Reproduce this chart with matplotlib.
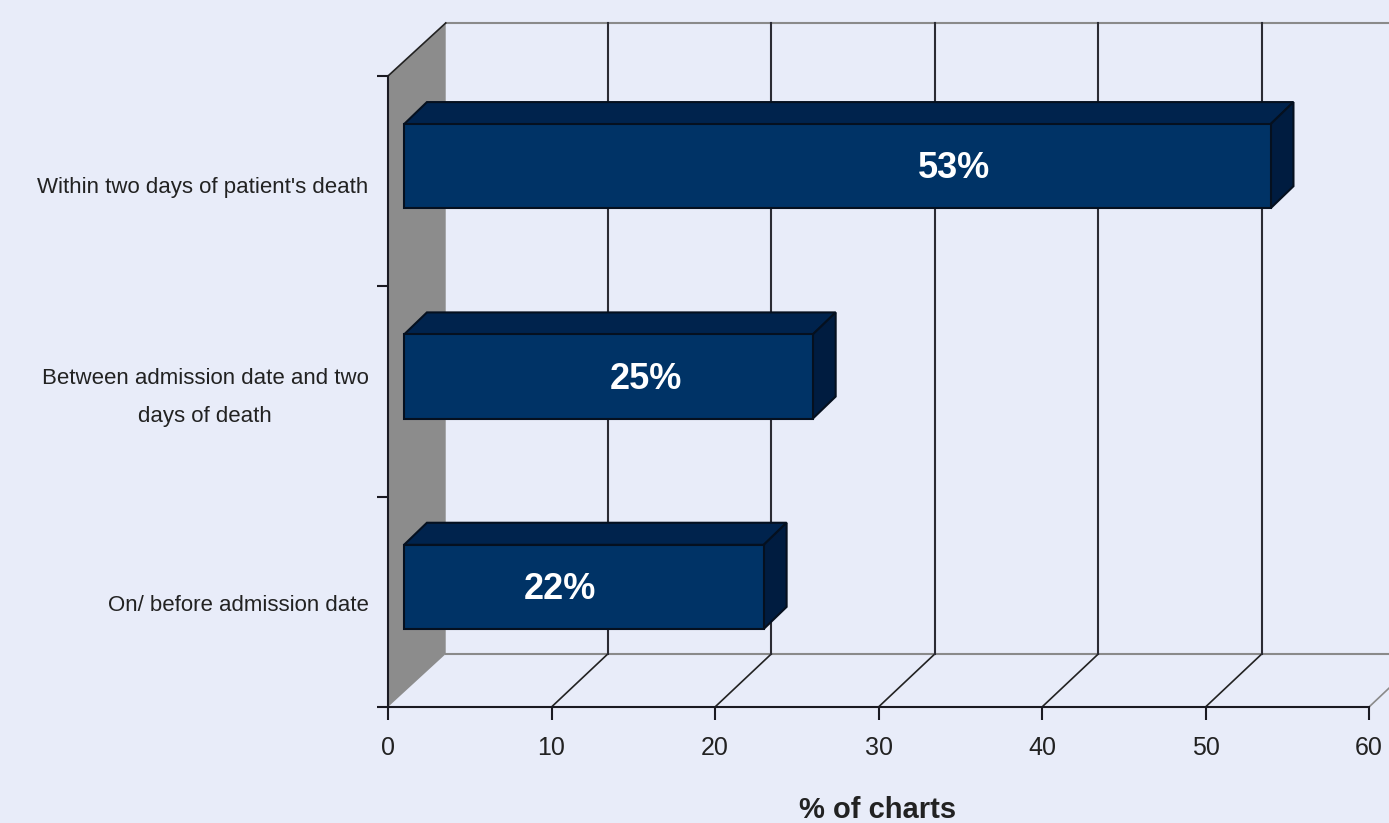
#!/usr/bin/env python3
# 3D-look horizontal bars, % of charts by timing
import matplotlib
matplotlib.use("Agg")
import matplotlib.pyplot as plt
from matplotlib.patches import Polygon

plt.rcParams["font.family"] = ["Liberation Sans", "DejaVu Sans"]

categories = ["On/ before admission date",
              "Between admission date and two\ndays of death",
              "Within two days of patient's death"]
values = [22, 25, 53]
value_labels = ["22%", "25%", "53%"]
x_ticks = [0, 10, 20, 30, 40, 50, 60]

BG = "#e8ecf9"
FRONT = "#003366"
TOP = "#00234d"
SIDE = "#001c40"
WALL = "#8c8c8c"
EDGE = "#05101f"

# fake depth, in data units
WALL_X = 3.53
DEPTH_X, DEPTH_Y = 3.44, 0.252
BAR_X, BAR_Y = 0.98, 0.071
BAR_DX, BAR_DY = 1.4, 0.105
BAR_H = 0.4
LABEL_X = [10.5, 15.8, 34.6]
CAT_LABEL_Y = [0.495, 1.525, 2.482]

W, H = 1389, 823
fig = plt.figure(figsize=(W / 100, H / 100), dpi=100, facecolor=BG)
ax = fig.add_axes([388 / W, (H - 707) / H, (1369 - 388) / W, (707 - 76) / H])
ax.patch.set_visible(False)
ax.set_xlim(0, 60)
ax.set_ylim(0, 3)

# side wall
ax.add_patch(Polygon([(0, 0), (WALL_X, DEPTH_Y), (WALL_X, 3 + DEPTH_Y), (0, 3)],
                     facecolor=WALL, edgecolor="none", clip_on=False, zorder=1))
ax.plot([0, WALL_X], [3, 3 + DEPTH_Y], color="#222222", lw=1.2, clip_on=False, zorder=2)

# back wall outline
ax.plot([WALL_X, 66], [3 + DEPTH_Y] * 2, color="#8a8a8a", lw=1.5, clip_on=False, zorder=1)
ax.plot([WALL_X, 66], [DEPTH_Y] * 2, color="#8a8a8a", lw=1.5, clip_on=False, zorder=1)

# grid and floor diagonals
for t in x_ticks[1:]:
    col = "#8a8a8a" if t == 60 else "#222222"
    ax.plot([t, t + DEPTH_X], [0, DEPTH_Y], color=col, lw=1.2, clip_on=False, zorder=2)
    if t < 60:
        ax.plot([t + DEPTH_X] * 2, [DEPTH_Y, 3 + DEPTH_Y], color="#2b2b33", lw=1.5,
                clip_on=False, zorder=2)

# bars, front face first then the top and the end
y_pos = [i + 0.5 + BAR_Y for i in range(len(values))]
ax.barh(y_pos, values, height=BAR_H, left=BAR_X, color=FRONT, edgecolor=EDGE,
        linewidth=1.5, zorder=4)
for y, v in zip(y_pos, values):
    top = y + BAR_H / 2
    bot = y - BAR_H / 2
    end = BAR_X + v
    ax.add_patch(Polygon([(BAR_X, top), (BAR_X + BAR_DX, top + BAR_DY),
                          (end + BAR_DX, top + BAR_DY), (end, top)],
                         facecolor=TOP, edgecolor=EDGE, lw=1.5, clip_on=False, zorder=3))
    ax.add_patch(Polygon([(end, top), (end + BAR_DX, top + BAR_DY),
                          (end + BAR_DX, bot + BAR_DY), (end, bot)],
                         facecolor=SIDE, edgecolor=EDGE, lw=1.5, clip_on=False, zorder=3))

for x, y, s in zip(LABEL_X, y_pos, value_labels):
    ax.text(x, y - 0.012, s, color="white", fontsize=26, fontweight="bold", ha="center",
            va="center", zorder=5)

for side in ("top", "right"):
    ax.spines[side].set_visible(False)
for side in ("left", "bottom"):
    ax.spines[side].set_color("#1a1a22")
    ax.spines[side].set_linewidth(1.5)
    ax.spines[side].set_zorder(6)

ax.set_xticks(x_ticks)
ax.tick_params(axis="x", length=9, width=1.5, color="#1a1a22", labelsize=18,
               labelcolor="#222222", pad=12)
ax.set_yticks([0, 1, 2, 3])
ax.set_yticklabels([])
ax.tick_params(axis="y", which="major", length=8, width=1.5, color="#1a1a22")
ax.set_yticks(CAT_LABEL_Y, labels=categories, minor=True)
ax.tick_params(axis="y", which="minor", length=0, labelsize=16, labelcolor="#222222", pad=14)
for lab in ax.get_yticklabels(minor=True):
    lab.set_multialignment("center")
    lab.set_linespacing(2.05)

ax.set_xlabel("% of charts", fontsize=21, fontweight="bold", color="#222222")
ax.xaxis.set_label_coords(0.499, -0.141)

fig.savefig("out.png", dpi=100, facecolor=BG)
